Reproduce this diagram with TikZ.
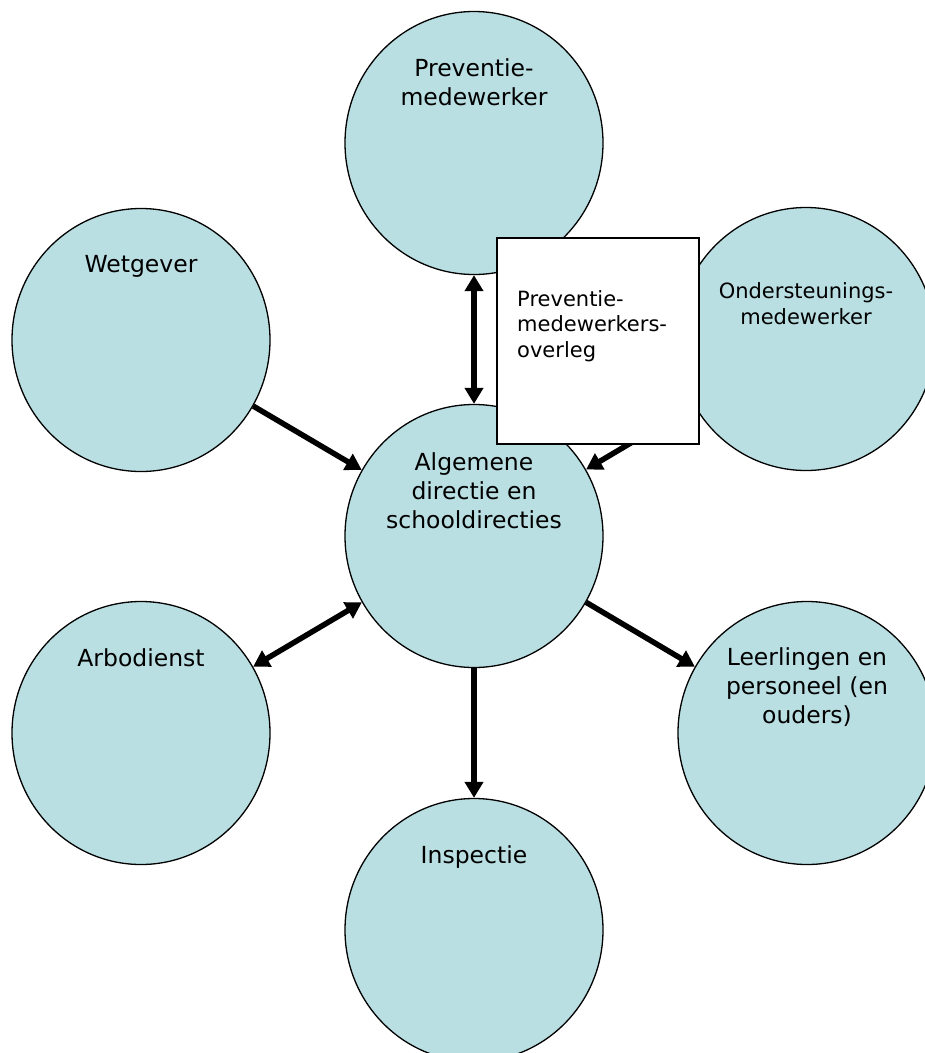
\documentclass[tikz,border=0pt]{standalone}
\usepackage{fontspec}
\setmainfont{DejaVu Sans}
\usetikzlibrary{shapes.geometric,arrows.meta}
\definecolor{bub}{HTML}{B9DFE3}
\newcommand{\mlines}[1]{\begin{tabular}[t]{@{}c@{}}#1\end{tabular}}
\newcommand{\llines}[1]{\begin{tabular}[t]{@{}l@{}}#1\end{tabular}}
\begin{document}
\begin{tikzpicture}[x=1pt,y=-1pt,
  bubble/.style={ellipse, draw=black, line width=1.3pt, fill=bub, minimum width=258pt, minimum height=263pt, inner sep=0pt},
  lbl/.style={anchor=base, inner sep=0pt, font=\fontsize{23.5}{29}\selectfont},
  small/.style={anchor=base, inner sep=0pt, font=\fontsize{21}{26}\selectfont},
  conn/.style={line width=5.5pt, -{Triangle[width=18pt,length=16pt]}},
  conn2/.style={line width=5.5pt, {Triangle[width=18pt,length=16pt]}-{Triangle[width=18pt,length=16pt]}}]
\useasboundingbox (0,0) rectangle (925,1053);
\clip (0,0) rectangle (925,1053);
\node[bubble] (prev) at (474,143) {};
\node[bubble] (wet) at (141,340) {};
\node[bubble] (ond) at (806,339) {};
\node[bubble] (dir) at (474,536) {};
\node[bubble] (arbo) at (141,733) {};
\node[bubble] (leer) at (807,733) {};
\node[bubble] (insp) at (474,930) {};
\node[lbl] (tprev) at (474,76) {\mlines{Preventie-\\medewerker}};
\node[lbl] (twet) at (141,272) {Wetgever};
\node[small] (tond) at (806,298) {\mlines{Ondersteunings-\\medewerker}};
\node[lbl] (tdir) at (474,470) {\mlines{Algemene\\directie en\\schooldirecties}};
\node[lbl] (tarbo) at (141,666) {Arbodienst};
\node[lbl] (tleer) at (807,665) {\mlines{Leerlingen en\\personeel (en\\ouders)}};
\node[lbl] (tinsp) at (474,863) {Inspectie};
\draw[conn] (wet) -- (dir);
\draw[conn2] (arbo) -- (dir);
\draw[conn] (dir) -- (leer);
\draw[conn] (dir) -- (insp);
\draw[conn2] (prev) -- (dir);
\draw[conn] (ond) -- (dir);
\node[draw=black, line width=2pt, fill=white, minimum width=202pt, minimum height=206pt, inner sep=0pt] (box) at (598,341) {};
\node[anchor=base west, inner sep=0pt, font=\fontsize{21}{25.5}\selectfont] (tbox) at (517,306) {\llines{Preventie-\\medewerkers-\\overleg}};
\end{tikzpicture}
\end{document}
